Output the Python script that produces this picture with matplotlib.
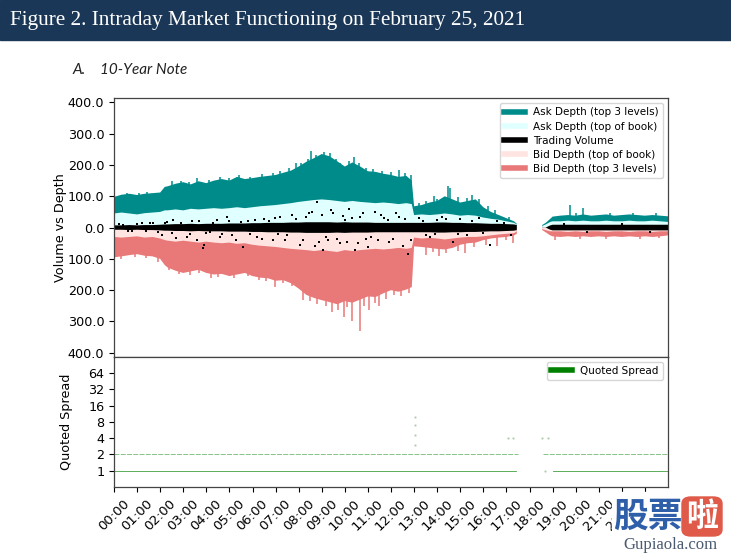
import numpy as np
import matplotlib
matplotlib.use("Agg")
import matplotlib.pyplot as plt
from matplotlib.lines import Line2D
from matplotlib.patches import Rectangle, FancyBboxPatch
from matplotlib.ticker import FuncFormatter, NullLocator

nan = np.nan

# time of day in hours (nan = no data between sessions)
t = [0.0, 0.33, 0.67, 1.0, 1.33, 1.67, 2.0, 2.2, 2.33, 2.67,
     3.0, 3.33, 3.67, 4.0, 4.33, 4.67, 5.0, 5.33, 5.67,
     6.0, 6.33, 6.67, 7.0, 7.33, 7.67,
     8.0, 8.33, 8.67, 9.0, 9.33, 9.67, 10.0, 10.33, 10.67, 11.0, 11.33, 11.67,
     12.0, 12.33, 12.67, 12.9,
     13.0, 13.33, 13.67, 14.0, 14.33, 14.67, 15.0, 15.33, 15.67, 16.0, 16.33,
     16.67, 17.0, 17.33, 17.45,
     nan,
     18.55, 18.7, 18.9, 19.0, 19.33, 19.67, 20.0, 20.33, 20.67, 21.0, 21.33,
     21.67, 22.0, 22.33, 22.67, 23.0, 23.33, 23.67, 24.0]

ask_top3 = [98, 105, 108, 104, 108, 110, 112, 130, 132, 140,
            145, 138, 148, 142, 150, 155, 150, 162, 155,
            158, 162, 165, 168, 175, 182,
            195, 210, 222, 235, 228, 212, 195, 208, 195, 180, 178, 172,
            168, 162, 165, 150,
            68, 72, 80, 85, 100, 90, 80, 85, 90, 65, 50,
            40, 30, 20, 12,
            nan,
            8, 15, 28, 35, 38, 40, 38, 42, 38, 40, 42,
            38, 40, 42, 40, 38, 40, 38, 36]

ask_top1 = [45, 48, 45, 42, 46, 48, 50, 55, 55, 58,
            55, 60, 58, 60, 62, 60, 62, 65, 62,
            65, 68, 70, 72, 75, 78,
            82, 85, 88, 90, 88, 85, 82, 85, 82, 80, 78, 80,
            78, 75, 78, 75,
            40, 42, 40, 42, 45, 42, 38, 40, 38, 32, 28,
            25, 20, 15, 10,
            nan,
            5, 10, 18, 20, 20, 22, 20, 22, 20, 20, 22,
            20, 20, 22, 20, 20, 22, 20, 18]

volume = [7, 7, 8, 7, 8, 8, 9, 10, 10, 11,
          11, 12, 11, 12, 12, 12, 13, 13, 13,
          14, 14, 15, 15, 15, 16,
          16, 17, 17, 17, 17, 16, 17, 16, 16, 16, 15, 15,
          15, 15, 15, 15,
          15, 15, 15, 16, 16, 15, 15, 14, 14, 13, 12,
          12, 11, 10, 8,
          nan,
          0, 0, 7, 9, 9, 9, 9, 9, 9, 9, 9,
          9, 9, 9, 9, 9, 9, 9, 9]

bid_top1 = [-30, -32, -30, -28, -32, -30, -35, -40, -42, -45,
            -42, -45, -48, -45, -48, -50, -48, -52, -50,
            -55, -58, -60, -62, -65, -68,
            -70, -72, -75, -72, -75, -78, -72, -75, -72, -70, -68, -70,
            -68, -65, -68, -65,
            -32, -35, -33, -35, -38, -35, -32, -30, -30, -28, -25,
            -22, -20, -18, -12,
            nan,
            -5, -8, -12, -12, -12, -14, -12, -14, -12, -12, -14,
            -12, -12, -14, -12, -12, -14, -12, -12]

bid_top3 = [-95, -92, -88, -85, -90, -92, -100, -120, -128, -138,
            -145, -140, -135, -145, -150, -148, -155, -150, -145,
            -155, -160, -162, -170, -168, -178,
            -195, -215, -225, -232, -238, -245, -235, -240, -230, -220, -222, -210,
            -200, -205, -198, -190,
            -60, -62, -65, -68, -70, -65, -55, -50, -48, -40, -35,
            -32, -30, -25, -20,
            nan,
            -8, -15, -25, -28, -30, -28, -30, -28, -30, -28, -30,
            -28, -30, -28, -30, -28, -30, -28, -25]

# short-lived spikes beyond the envelopes
ask_spike_t = [0.55, 1.1, 1.45, 2.5, 2.9, 3.25, 3.6, 4.1, 4.6, 5.0, 5.4, 5.9,
               6.4, 6.9, 7.2, 7.6, 7.9, 8.1, 8.4, 8.55, 8.75, 9.1, 9.35, 9.6, 9.8,
               10.2, 10.4, 10.6, 10.9, 11.2, 11.6, 12.0, 12.35, 12.6, 12.85,
               13.2, 13.5, 13.85, 14.0, 14.45, 14.55, 14.9, 15.3, 15.5, 15.8, 16.2, 16.5, 17.1,
               19.75, 20.0, 20.3, 21.5, 22.5, 23.5]
ask_spike_v = [112, 110, 115, 150, 150, 145, 158, 152, 160, 158, 168, 162,
               170, 175, 182, 190, 205, 205, 220, 245, 232, 242, 238, 220, 205,
               212, 225, 205, 190, 188, 182, 178, 185, 175, 168,
               78, 85, 100, 92, 132, 125, 98, 95, 105, 92, 68, 55, 35,
               72, 48, 62, 47, 46, 45]
bid_spike_t = [0.3, 0.9, 1.4, 1.9, 2.4, 2.8, 3.3, 3.7, 4.2, 4.5, 5.2, 5.8,
               6.3, 6.6, 6.97, 7.3, 7.7, 8.2, 8.5, 8.8, 9.2, 9.45, 9.7, 9.95,
               10.1, 10.3, 10.65, 10.85, 11.05, 11.3, 11.5, 11.8, 12.15, 12.45, 12.8,
               13.5, 13.8, 14.1, 14.4, 14.9, 15.2, 15.6, 16.1, 16.6, 17.0, 17.3,
               19.1, 20.2, 21.3, 22.8, 23.6]
bid_spike_v = [-100, -95, -98, -110, -135, -148, -150, -145, -160, -158, -162, -155,
               -168, -172, -190, -178, -188, -230, -235, -245, -250, -270, -262, -285,
               -255, -300, -330, -250, -265, -240, -250, -228, -215, -220, -210,
               -88, -78, -90, -82, -75, -80, -62, -55, -60, -40, -50,
               -40, -35, -36, -35, -34]

# trading volume outliers
vol_dot_t = [0.2, 0.4, 0.6, 0.8, 1.0, 1.2, 1.4, 1.56, 1.7, 1.9,
             2.07, 2.2, 2.3, 2.5, 2.56, 2.7, 2.9, 3.15, 3.3, 3.4, 3.58, 3.7, 3.86, 3.9,
             4.0, 4.16, 4.3, 4.45, 4.6, 4.7, 4.88, 5.0, 5.1, 5.3, 5.5, 5.6, 5.8, 5.9,
             6.1, 6.2, 6.4, 6.5, 6.7, 6.9, 6.98, 7.1, 7.2, 7.4, 7.5, 7.7, 7.9,
             8.06, 8.2, 8.3, 8.45, 8.57, 8.7, 8.78, 8.9, 9.0, 9.07, 9.2, 9.28, 9.4,
             9.5, 9.65, 9.8, 9.9, 10.0, 10.1, 10.2, 10.3, 10.44, 10.55, 10.66, 10.8,
             10.9, 11.0, 11.15, 11.3, 11.45, 11.55, 11.7, 11.85, 11.9, 12.1, 12.2,
             12.35, 12.5, 12.6, 12.75, 12.85,
             13.2, 13.4, 13.5, 13.7, 13.9, 14.0, 14.2, 14.4, 14.7, 14.9, 15.0, 15.3,
             15.5, 15.8, 16.0, 16.3, 16.6, 16.9, 17.2,
             19.5, 20.5, 22.0, 23.2]
vol_dot_v = [12, 9, -10, -12, 11, 14, -12, 14, 13, -15,
             -23, 15, 18, -18, 25, -33, 16, -29, -20, 20, -39, 22, -65, -55,
             -18, -13, 16, 25, -30, -20, 35, 20, -25, -39, 18, -61, 22, -22,
             25, -30, -35, 28, 22, -40, 30, -20, 35, -39, -25, 40, 28,
             -55, -40, 35, 45, 51, -60, 83, -45, 40, -71, -30, -39, 55,
             45, -35, -50, 38, 25, -45, 60, 30, -71, -50, 35, 45,
             -35, -61, -30, 51, -39, 40, 30, 25, -45, -35, 45,
             35, -60, 28, -85, -40,
             30, 22, -25, -30, -22, 25, 35, 28, -45, -20, 28, -25,
             22, 30, -18, -55, 22, 15, -25,
             12, -14, 12, -13]

# quoted spread: flat segments (start, end, level)
spread_start = [0.0, 19.0, 0.0, 18.6]
spread_end = [17.43, 24.0, 17.5, 24.0]
spread_level = [1, 1, 2, 2]
spread_evt_t = [13.03, 13.03, 13.03, 13.03, 17.05, 17.3, 18.55, 18.8, 18.65]
spread_evt_v = [3, 4.5, 7, 10, 4, 4, 4, 4, 1]

hours = list(range(24))
hour_labels = ["%02d:00" % h for h in hours]

W, H = 731, 554
fig = plt.figure(figsize=(W / 100, H / 100), dpi=100)

# header bar
fig.patches.append(Rectangle((0, 1 - 40 / H), 1, 40 / H, transform=fig.transFigure,
                             color="#1b3757", zorder=0))
fig.text(10 / W, 1 - 21 / H, "Figure 2. Intraday Market Functioning on February 25, 2021",
         color="white", family="Liberation Serif", fontsize=15.3, va="center")
fig.text(72 / W, 1 - 70 / H, "A.", family="Lato", style="italic", fontsize=11, va="center", color="#222")
fig.text(100 / W, 1 - 70 / H, "10-Year Note", family="Lato", style="italic", fontsize=11,
         va="center", color="#222")

ax1 = fig.add_axes([114 / W, 1 - 356.5 / H, 554 / W, 258.5 / H])
ax2 = fig.add_axes([114 / W, 1 - 487 / H, 554 / W, 130.5 / H], sharex=ax1)

c_ask3, c_ask1 = "#008b8b", "#e0ffff"
c_bid1, c_bid3 = "#ffe4e1", "#e97878"

# all layers share one zorder so they stack in drawing order
ax1.fill_between(t, 0, ask_top3, color=c_ask3, lw=0, zorder=1)
ax1.vlines(ask_spike_t, 0, ask_spike_v, color=c_ask3, lw=1.1, zorder=1)
ax1.fill_between(t, 0, ask_top1, color=c_ask1, lw=0, zorder=1)
ax1.fill_between(t, 0, bid_top3, color=c_bid3, lw=0, zorder=1)
ax1.vlines(bid_spike_t, 0, bid_spike_v, color=c_bid3, lw=1.1, zorder=1)
ax1.fill_between(t, 0, bid_top1, color=c_bid1, lw=0, zorder=1)
vol = np.array(volume, dtype=float)
ax1.fill_between(t, -vol, vol, color="black", lw=0, zorder=1)
ax1.plot(vol_dot_t, vol_dot_v, "s", color="black", ms=2.0, mew=0)

ax1.set_xlim(0, 24)
ax1.set_ylim(-412, 414)
ax1.set_yticks([-400, -300, -200, -100, 0, 100, 200, 300, 400])
ax1.yaxis.set_major_formatter(FuncFormatter(lambda v, p: "%.1f" % abs(v)))
ax1.set_ylabel("Volume vs Depth", fontsize=9.2)
ax1.yaxis.set_label_coords(-0.085, 0.5)
ax1.tick_params(axis="x", bottom=False, labelbottom=False)
ax1.tick_params(axis="y", labelsize=9.2)

handles = [Line2D([], [], color=c, lw=4) for c in [c_ask3, c_ask1, "black", c_bid1, c_bid3]]
labels = ["Ask Depth (top 3 levels)", "Ask Depth (top of book)", "Trading Volume",
          "Bid Depth (top of book)", "Bid Depth (top 3 levels)"]
ax1.legend(handles, labels, loc="upper right", fontsize=7.5, handlelength=2.0,
           labelspacing=0.4, borderpad=0.4)

for s, e, lv in zip(spread_start, spread_end, spread_level):
    ax2.plot([s, e], [lv, lv], color="green", lw=0.6,
             alpha=0.75 if lv == 1 else 0.55, ls="-" if lv == 1 else (0, (6, 1.5)))
ax2.plot(spread_evt_t, spread_evt_v, ".", color="#9bbf9b", ms=1.5, alpha=0.6)
ax2.set_yscale("log", base=2)
ax2.set_ylim(0.5, 130)
ax2.set_yticks([1, 2, 4, 8, 16, 32, 64])
ax2.set_yticklabels(["1", "2", "4", "8", "16", "32", "64"])
ax2.yaxis.set_minor_locator(NullLocator())
ax2.set_ylabel("Quoted Spread", fontsize=9.2)
ax2.yaxis.set_label_coords(-0.074, 0.5)
ax2.tick_params(axis="y", labelsize=9.2)
ax2.set_xticks(hours)
ax2.set_xticklabels(hour_labels, rotation=45, fontsize=9.5)
ax2.legend([Line2D([], [], color="green", lw=4)], ["Quoted Spread"], loc="upper right",
           fontsize=7.5, handlelength=2.0, borderpad=0.4)

for ax in (ax1, ax2):
    for sp in ax.spines.values():
        sp.set_color("#444")
        sp.set_linewidth(0.9)

# watermark
fig.patches.append(Rectangle((612 / W, 0), 1, 62 / H, transform=fig.transFigure,
                             color="white", zorder=5))
fig.text(613 / W, 1 - 516 / H, "股票", family="Noto Sans CJK SC", weight="bold",
         fontsize=25, color="#2f5fa8", va="center", zorder=6)
fig.patches.append(FancyBboxPatch((682 / W, 1 - 536 / H), 40 / W, 39 / H,
                                  boxstyle="round,pad=0,rounding_size=0.012",
                                  transform=fig.transFigure, color="#e05a4a", zorder=6))
fig.text(702 / W, 1 - 517 / H, "啦", family="Noto Sans CJK SC", weight="bold",
         fontsize=23, color="white", ha="center", va="center", zorder=7)
fig.text(670 / W, 1 - 545 / H, "Gupiaola.com", family="Liberation Serif", fontsize=12,
         color="#4a5a70", ha="center", va="center", zorder=7)

fig.savefig("out.png", dpi=100)
